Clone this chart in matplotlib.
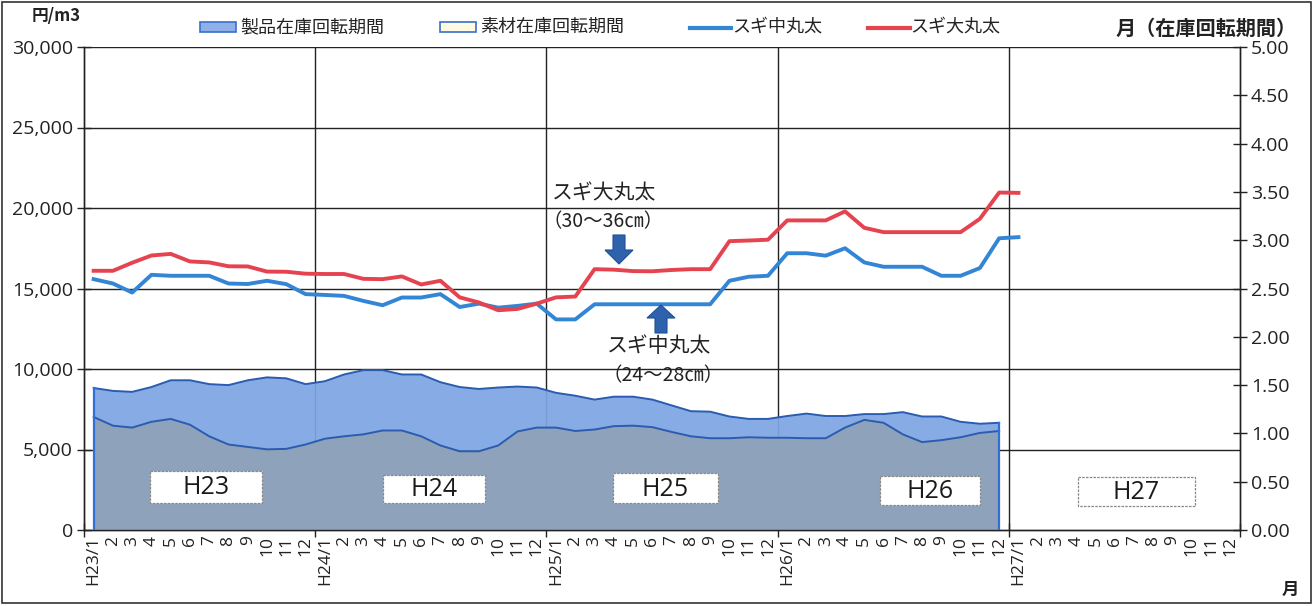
import matplotlib
matplotlib.use("Agg")
import matplotlib.pyplot as plt
from matplotlib.patches import Rectangle, Polygon
from matplotlib.lines import Line2D
from matplotlib.transforms import Affine2D
import numpy as np

plt.rcParams['font.family'] = ['Noto Sans CJK JP', 'DejaVu Sans']

W, H = 1314, 606

# ---------------- data ----------------
years = ['H23', 'H24', 'H25', 'H26', 'H27']
month_labels = []
for yr in years:
    for m in range(1, 13):
        month_labels.append(f"{yr}/1" if m == 1 else str(m))

# スギ大丸太 (円/m3), H23/1 .. H27/1
sugi_large = [16100, 16100, 16600, 17050, 17150, 16680, 16620, 16380, 16370, 16050, 16040, 15920,
              15900, 15900, 15600, 15580, 15750, 15250, 15480, 14450, 14130, 13650, 13730, 14060,
              14450, 14500, 16200, 16170, 16080, 16070, 16150, 16200, 16200, 17940, 17980, 18030,
              19230, 19230, 19230, 19790, 18770, 18500, 18500, 18500, 18500, 18500, 19330, 20960,
              20940]
# スギ中丸太 (円/m3)
sugi_medium = [15580, 15310, 14750, 15850, 15790, 15790, 15790, 15310, 15280, 15480, 15270, 14650,
               14600, 14540, 14230, 13960, 14440, 14440, 14650, 13850, 14060, 13810, 13920, 14060,
               13080, 13080, 14020, 14020, 14020, 14020, 14020, 14020, 14020, 15480, 15730, 15790,
               17190, 17190, 17040, 17500, 16620, 16350, 16350, 16350, 15790, 15790, 16270, 18120,
               18190]
# 製品在庫回転期間 (月), H23/1 .. H26/12
product_turnover = [1.47, 1.44, 1.43, 1.48, 1.55, 1.55, 1.51, 1.50, 1.55, 1.58, 1.57, 1.51,
                    1.54, 1.61, 1.655, 1.655, 1.61, 1.61, 1.53, 1.48, 1.46, 1.475, 1.485, 1.475,
                    1.42, 1.39, 1.35, 1.38, 1.38, 1.35, 1.29, 1.23, 1.225, 1.175, 1.15, 1.15,
                    1.18, 1.205, 1.18, 1.18, 1.20, 1.20, 1.22, 1.175, 1.175, 1.12, 1.10, 1.11]
# 素材在庫回転期間 (月)
material_turnover = [1.17, 1.08, 1.06, 1.12, 1.15, 1.09, 0.97, 0.885, 0.86, 0.835, 0.84, 0.885,
                     0.945, 0.97, 0.99, 1.03, 1.03, 0.97, 0.875, 0.815, 0.815, 0.875, 1.02, 1.06,
                     1.06, 1.025, 1.04, 1.075, 1.08, 1.065, 1.015, 0.97, 0.95, 0.95, 0.96, 0.955,
                     0.955, 0.95, 0.95, 1.06, 1.14, 1.11, 0.99, 0.91, 0.93, 0.96, 1.005, 1.025]

left_ticks = [0, 5000, 10000, 15000, 20000, 25000, 30000]
right_ticks = [0.0, 0.5, 1.0, 1.5, 2.0, 2.5, 3.0, 3.5, 4.0, 4.5, 5.0]

# ---------------- styles ----------------
RED = '#e5434f'
BLUE = '#3385d6'
AREA_BLUE = '#7ea6e3'
AREA_GRAY = '#8fa3b8'
EDGE = '#2b5cb0'
NUMFONT = ['Open Sans', 'DejaVu Sans']

fig = plt.figure(figsize=(W / 100, H / 100), dpi=100)
fig.patch.set_facecolor('white')

def fx(px):
    return px / W

def fy(py):
    return 1 - py / H

ax_l, ax_r, ax_t, ax_b = 84, 1240, 47, 530
ax = fig.add_axes([fx(ax_l), fy(ax_b), (ax_r - ax_l) / W, (ax_b - ax_t) / H])
ax2 = ax.twinx()

n = len(month_labels)
x_line = np.arange(len(sugi_large))
x_area = np.arange(len(product_turnover))

# grid
ax.set_xlim(-0.5, n - 0.5)
ax.set_ylim(0, 30000)
ax.set_yticks(left_ticks)
ax.set_yticklabels([f"{v:,}" for v in left_ticks])
for v in left_ticks[1:]:
    ax.axhline(v, color='#222222', lw=1.0, zorder=0)
for b in [11.5, 23.5, 35.5, 47.5]:
    ax.axvline(b, color='#222222', lw=1.0, zorder=0)

# areas on secondary axis
ax2.set_ylim(0, 5)
ax2.set_yticks(right_ticks)
ax2.set_yticklabels([f"{v:.2f}" for v in right_ticks])
ax2.fill_between(x_area, 0, product_turnover, facecolor=AREA_BLUE, edgecolor='none', alpha=0.93, zorder=1)
ax2.fill_between(x_area, 0, material_turnover, facecolor=AREA_GRAY, edgecolor='none', alpha=0.93, zorder=2)
ax2.plot(x_area, product_turnover, color=EDGE, lw=1.4, zorder=3)
ax2.plot(x_area, material_turnover, color=EDGE, lw=1.4, zorder=3)
ax2.plot([x_area[0], x_area[0]], [0, product_turnover[0]], color='#3070d8', lw=1.6, zorder=3)
ax2.plot([x_area[-1], x_area[-1]], [0, product_turnover[-1]], color='#3070d8', lw=1.6, zorder=3)

# price lines, drawn with the primary (円/m3) axis scale (30,000 円 <-> 5.00 月)
ax2.plot(x_line, np.array(sugi_medium) / 6000.0, color=BLUE, lw=2.8, zorder=5)
ax2.plot(x_line, np.array(sugi_large) / 6000.0, color=RED, lw=2.8, zorder=5)

# ticks
ax.set_xticks([-0.5, 11.5, 23.5, 35.5, 47.5, 59.5])
ax.set_xticklabels([])
ax.set_xticks(np.arange(n), minor=True)
ax.set_xticklabels(month_labels, minor=True, rotation=90, fontsize=12.5, color='#222222',
                   family=NUMFONT)
ax.tick_params(axis='x', which='minor', length=0, pad=4)
ax.tick_params(axis='x', which='major', direction='inout', length=10, width=1, color='#222222')
ax.tick_params(axis='y', direction='inout', length=10, width=1, color='#222222', labelsize=14,
               labelcolor='#222222', pad=3)
ax2.tick_params(axis='y', direction='inout', length=10, width=1, color='#222222', labelsize=14,
                labelcolor='#222222', pad=3)
for lab in ax.get_yticklabels() + ax2.get_yticklabels():
    lab.set_family(NUMFONT)

for a in (ax, ax2):
    for s in a.spines.values():
        s.set_color('#222222')
        s.set_linewidth(1.0)
    a.spines['top'].set_visible(False)

# ---------------- figure-level decorations (pixel coords) ----------------
px = Affine2D().scale(1 / W, -1 / H).translate(0, 1) + fig.transFigure

# outer frame
fig.patches.append(Rectangle((2, 2), W - 5, H - 5, transform=px, fill=False, edgecolor='#333333', lw=1.2))

# axis titles
fig.text(fx(32), fy(16), '円/m3', fontsize=12, fontweight='bold', va='center', ha='left', color='#222222')
fig.text(fx(1116), fy(28), '月（在庫回転期間）', fontsize=14.5, fontweight='bold', va='center', ha='left', color='#222222')
fig.text(fx(1290), fy(590), '月', fontsize=12.5, fontweight='bold', va='center', ha='center', color='#222222')

# legend
fig.patches.append(Rectangle((200, 22), 36, 10, transform=px, facecolor='#8fb1ea', edgecolor='#3a6fc8', lw=1.2))
fig.text(fx(240), fy(27), '製品在庫回転期間', fontsize=13, va='center', ha='left', color='#222222')
fig.patches.append(Rectangle((440, 22), 36, 10, transform=px, facecolor='#fffbe3', edgecolor='#3a6fc8', lw=1.2))
fig.text(fx(480), fy(27), '素材在庫回転期間', fontsize=13, va='center', ha='left', color='#222222')
fig.lines.append(Line2D([690, 731], [28, 28], transform=px, color=BLUE, lw=3))
fig.text(fx(732), fy(27), 'スギ中丸太', fontsize=13, va='center', ha='left', color='#222222')
fig.lines.append(Line2D([868, 910], [28, 28], transform=px, color=RED, lw=3))
fig.text(fx(910), fy(27), 'スギ大丸太', fontsize=13, va='center', ha='left', color='#222222')

# annotations
fig.text(fx(552), fy(193), 'スギ大丸太', fontsize=15, va='center', ha='left', color='#222222')
fig.text(fx(543), fy(222), '（30～36㎝）', fontsize=14, va='center', ha='left', color='#222222')
fig.text(fx(607), fy(346), 'スギ中丸太', fontsize=15, va='center', ha='left', color='#222222')
fig.text(fx(602), fy(376), '（24～28㎝）', fontsize=14, va='center', ha='left', color='#222222')

ARROW = '#2e62ad'
cx = 619
fig.patches.append(Polygon([(cx - 6, 235), (cx + 6, 235), (cx + 6, 250), (cx + 14, 250), (cx, 264),
                            (cx - 14, 250), (cx - 6, 250)], closed=True, transform=px,
                           facecolor=ARROW, edgecolor='#1f4f95', lw=0.8))
cx = 661
fig.patches.append(Polygon([(cx, 305), (cx + 14, 318), (cx + 6, 318), (cx + 6, 333), (cx - 6, 333),
                            (cx - 6, 318), (cx - 14, 318)], closed=True, transform=px,
                           facecolor=ARROW, edgecolor='#1f4f95', lw=0.8))

# year boxes
boxes = [('H23', 150, 471, 262, 503), ('H24', 383, 475, 485, 503), ('H25', 613, 473, 718, 503),
         ('H26', 880, 476, 980, 505), ('H27', 1078, 477, 1195, 506)]
for lbl, x0, y0, x1, y1 in boxes:
    fig.patches.append(Rectangle((x0, y0), x1 - x0, y1 - y0, transform=px, facecolor='white',
                                 edgecolor='#888888', lw=0.9, linestyle=(0, (2, 1))))
    fig.text(fx((x0 + x1) / 2), fy((y0 + y1) / 2 + 1), lbl, fontsize=18, va='center', ha='center',
             color='#1a1a1a', family=NUMFONT)

fig.savefig('out.png', dpi=100)
